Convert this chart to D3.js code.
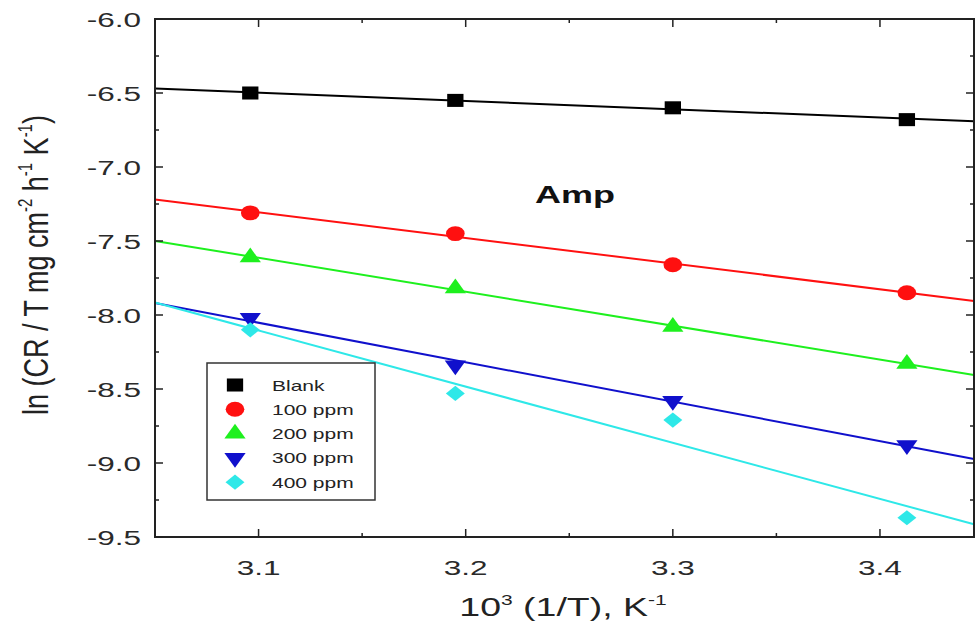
<!DOCTYPE html>
<html>
<head>
<meta charset="utf-8">
<script src="https://cdn.jsdelivr.net/npm/d3@7"></script>
<style>
  body { margin: 0; background: #fff; }
  text { font-family: "Liberation Sans", Arial, sans-serif; }
</style>
</head>
<body>
<div id="chart"></div>
<script>
// Data
var invT = [3.096, 3.195, 3.300, 3.413];
var seriesNames = ["Blank", "100 ppm", "200 ppm", "300 ppm", "400 ppm"];
var blank = [-6.50, -6.55, -6.60, -6.68];
var ppm100 = [-7.31, -7.45, -7.66, -7.85];
var ppm200 = [-7.61, -7.82, -8.08, -8.33];
var ppm300 = [-8.02, -8.34, -8.58, -8.88];
var ppm400 = [-8.10, -8.53, -8.71, -9.37];
var xTicks = [3.1, 3.2, 3.3, 3.4];
var yTicks = [-6.0, -6.5, -7.0, -7.5, -8.0, -8.5, -9.0, -9.5];

var allSeries = [blank, ppm100, ppm200, ppm300, ppm400];
var colors = ["#000000", "#ff1010", "#1ef01e", "#1010cc", "#2ee8e8"];
var symbols = [d3.symbolSquare, d3.symbolCircle, d3.symbolTriangle, d3.symbolTriangle, d3.symbolSquare];
var symSizes = [170, 175, 125, 125, 115];
var symRotate = [0, 0, 0, 180, 45];

// the original picture is stretched sideways
var stretch = 1.5;

var svgWidth = 977;
var svgHeight = 639;

var svg = d3.select("#chart")
  .append("svg")
  .attr("width", svgWidth)
  .attr("height", svgHeight);

// Scales (3.1 -> 259px, 3.4 -> 880px)
var xScale = d3.scaleLinear()
  .domain([3.05, 3.4454])
  .range([155, 974]);

var yScale = d3.scaleLinear()
  .domain([-9.5, -6.0])
  .range([537, 19]);

var x0 = xScale.range()[0], x1 = xScale.range()[1];
var y0 = yScale.range()[0], y1 = yScale.range()[1];

// Fit lines (linear regression of each series)
function fit(ys) {
  var mx = d3.mean(invT), my = d3.mean(ys);
  var sxy = d3.sum(invT, (x, i) => (x - mx) * (ys[i] - my));
  var sxx = d3.sum(invT, x => (x - mx) * (x - mx));
  var b = sxy / sxx;
  return x => my + b * (x - mx);
}

var lineGroup = svg.append("g");
allSeries.forEach(function(ys, i) {
  var f = fit(ys);
  var d = xScale.domain();
  lineGroup.append("line")
    .attr("x1", xScale(d[0]))
    .attr("y1", yScale(f(d[0])))
    .attr("x2", xScale(d[1]))
    .attr("y2", yScale(f(d[1])))
    .attr("stroke", colors[i])
    .attr("stroke-width", 2);
});

function markerTransform(px, py, i) {
  return `translate(${px}, ${py}) scale(1.25, 1) rotate(${symRotate[i]})`;
}

// Markers
allSeries.forEach(function(ys, i) {
  svg.append("g").selectAll("path")
    .data(ys)
    .enter()
    .append("path")
    .attr("d", d3.symbol().type(symbols[i]).size(symSizes[i]))
    .attr("transform", (d, j) => markerTransform(xScale(invT[j]), yScale(d), i))
    .attr("fill", colors[i]);
});

// Frame
svg.append("rect")
  .attr("x", x0)
  .attr("y", y1)
  .attr("width", x1 - x0)
  .attr("height", y0 - y1)
  .attr("fill", "none")
  .attr("stroke", "#222")
  .attr("stroke-width", 2);

// Inward ticks on all four sides
var tickGroup = svg.append("g").attr("stroke", "#222").attr("stroke-width", 1.5);
var xMinor = d3.range(3.05, 3.45, 0.05);
xMinor.forEach(function(v) {
  var major = xTicks.some(t => Math.abs(t - v) < 1e-6);
  var len = major ? 8 : 4;
  var px = xScale(v);
  tickGroup.append("line").attr("x1", px).attr("x2", px).attr("y1", y0).attr("y2", y0 - len);
  tickGroup.append("line").attr("x1", px).attr("x2", px).attr("y1", y1).attr("y2", y1 + len);
});
var yMinor = d3.range(-9.5, -5.99, 0.25);
yMinor.forEach(function(v) {
  var major = Math.abs(v * 2 - Math.round(v * 2)) < 1e-6;
  var len = major ? 8 : 4;
  var py = yScale(v);
  tickGroup.append("line").attr("x1", x0).attr("x2", x0 + len).attr("y1", py).attr("y2", py);
  tickGroup.append("line").attr("x1", x1).attr("x2", x1 - len).attr("y1", py).attr("y2", py);
});

// Tick labels
svg.append("g").selectAll("text")
  .data(xTicks)
  .enter()
  .append("text")
  .attr("transform", d => `translate(${xScale(d)}, 575) scale(${stretch}, 1)`)
  .attr("text-anchor", "middle")
  .attr("font-size", 21)
  .attr("fill", "#2a2a2a")
  .text(d => d.toFixed(1));

svg.append("g").selectAll("text")
  .data(yTicks)
  .enter()
  .append("text")
  .attr("transform", d => `translate(141, ${yScale(d) + 7.5}) scale(${stretch}, 1)`)
  .attr("text-anchor", "end")
  .attr("font-size", 21)
  .attr("fill", "#2a2a2a")
  .text(d => d.toFixed(1));

// Axis titles
var xLabel = svg.append("text")
  .attr("transform", `translate(563, 616) scale(${stretch}, 1)`)
  .attr("text-anchor", "middle")
  .attr("font-size", 25)
  .attr("fill", "#222");
xLabel.append("tspan").text("10");
xLabel.append("tspan").attr("font-size", 14).attr("dy", -11).text("3");
xLabel.append("tspan").attr("dy", 11).text(" (1/T), K");
xLabel.append("tspan").attr("font-size", 14).attr("dy", -11).text("-1");

var yLabel = svg.append("text")
  .attr("transform", "translate(48, 265) scale(1.3, 1) rotate(-90)")
  .attr("text-anchor", "middle")
  .attr("font-size", 27)
  .attr("fill", "#222");
yLabel.append("tspan").text("ln (CR / T mg cm");
yLabel.append("tspan").attr("font-size", 15).attr("dy", -12).text("-2");
yLabel.append("tspan").attr("dy", 12).text(" h");
yLabel.append("tspan").attr("font-size", 15).attr("dy", -12).text("-1");
yLabel.append("tspan").attr("dy", 12).text(" K");
yLabel.append("tspan").attr("font-size", 15).attr("dy", -12).text("-1");
yLabel.append("tspan").attr("dy", 12).text(")");

// Annotation
svg.append("text")
  .attr("transform", `translate(575, 203) scale(${stretch}, 1)`)
  .attr("text-anchor", "middle")
  .attr("font-size", 24)
  .attr("font-weight", "bold")
  .attr("fill", "#111")
  .text("Amp");

// Legend
var legend = svg.append("g").attr("transform", "translate(207, 363)");
legend.append("rect")
  .attr("width", 168)
  .attr("height", 137)
  .attr("fill", "#fff")
  .attr("stroke", "#333")
  .attr("stroke-width", 1.5);
seriesNames.forEach(function(name, i) {
  var ly = 22 + i * 24.3;
  legend.append("path")
    .attr("d", d3.symbol().type(symbols[i]).size(symSizes[i]))
    .attr("transform", markerTransform(28, ly, i))
    .attr("fill", colors[i]);
  legend.append("text")
    .attr("transform", `translate(65, ${ly + 5.5}) scale(${stretch}, 1)`)
    .attr("font-size", 14)
    .attr("fill", "#222")
    .text(name);
});
</script>
</body>
</html>
